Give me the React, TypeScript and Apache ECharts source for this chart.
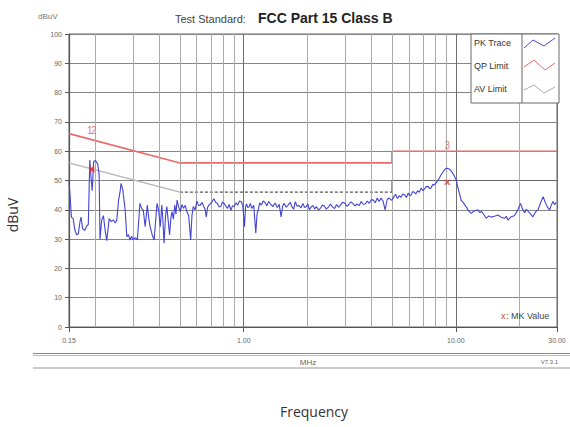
import React, { useEffect, useRef } from "react";
import * as echarts from "echarts";

// ---- data: [frequency MHz, level dBuV] ----
const pkTrace: [number, number][] = [
  [0.150, 50.0], [0.152, 44.0], [0.154, 37.5], [0.157, 37.0], [0.160, 33.0],
  [0.163, 31.5], [0.166, 31.8], [0.169, 36.0], [0.171, 37.5], [0.174, 33.5],
  [0.178, 33.0], [0.182, 34.5], [0.185, 35.0], [0.188, 57.0], [0.191, 50.0],
  [0.193, 46.5], [0.196, 56.5], [0.200, 56.8], [0.205, 55.5], [0.208, 52.0],
  [0.210, 30.0], [0.214, 36.5], [0.218, 38.0], [0.222, 33.0], [0.226, 29.5],
  [0.232, 37.0], [0.237, 36.0], [0.243, 36.5], [0.248, 35.5], [0.252, 36.5],
  [0.257, 43.3], [0.261, 46.0], [0.264, 49.0], [0.269, 46.8], [0.276, 39.9],
  [0.281, 30.8], [0.286, 31.5], [0.291, 29.7], [0.296, 31.0], [0.301, 29.9],
  [0.308, 30.5], [0.315, 29.7], [0.324, 42.2], [0.330, 40.5], [0.336, 39.9],
  [0.343, 34.2], [0.351, 41.6], [0.356, 37.5], [0.362, 34.2], [0.370, 31.5],
  [0.378, 29.7], [0.384, 36.0], [0.390, 42.2], [0.397, 39.9], [0.404, 34.2],
  [0.411, 41.6], [0.416, 36.0], [0.421, 28.6], [0.428, 38.0], [0.434, 41.1],
  [0.440, 36.5], [0.447, 31.4], [0.453, 37.0], [0.459, 39.4], [0.466, 36.8],
  [0.473, 41.6], [0.479, 38.5], [0.485, 43.3], [0.493, 41.0], [0.502, 39.4],
  [0.511, 41.8], [0.520, 40.5], [0.530, 41.5], [0.539, 39.4], [0.550, 38.0],
  [0.562, 29.7], [0.570, 38.0], [0.578, 41.1], [0.590, 40.0], [0.601, 43.0],
  [0.612, 41.5], [0.624, 41.6], [0.636, 42.5], [0.648, 41.1], [0.657, 40.2],
  [0.666, 37.6], [0.675, 40.8], [0.685, 41.6], [0.704, 42.4], [0.723, 43.8],
  [0.737, 42.6], [0.751, 42.2], [0.765, 41.0], [0.779, 41.1], [0.793, 42.6],
  [0.808, 42.2], [0.823, 41.2], [0.839, 40.5], [0.854, 41.8], [0.870, 39.9],
  [0.886, 41.4], [0.903, 41.1], [0.920, 42.4], [0.937, 41.6], [0.955, 43.0],
  [0.972, 42.8], [0.990, 41.5], [1.008, 34.2], [1.020, 41.0], [1.030, 42.0],
  [1.045, 40.8], [1.060, 41.0], [1.075, 42.2], [1.090, 40.5], [1.115, 41.5],
  [1.140, 32.0], [1.155, 38.5], [1.170, 40.0], [1.190, 42.4], [1.210, 41.6],
  [1.235, 43.0], [1.260, 42.5], [1.285, 41.4], [1.310, 42.8], [1.340, 41.9],
  [1.370, 41.1], [1.405, 42.3], [1.440, 40.8], [1.470, 41.9], [1.500, 37.6],
  [1.525, 41.2], [1.550, 42.2], [1.585, 40.9], [1.620, 41.6], [1.655, 42.6],
  [1.690, 41.0], [1.720, 40.2], [1.750, 42.8], [1.785, 41.2], [1.820, 41.5],
  [1.860, 40.6], [1.900, 42.2], [1.935, 40.8], [1.970, 41.1], [2.005, 42.0],
  [2.040, 40.0], [2.080, 41.0], [2.120, 41.5], [2.160, 40.3], [2.200, 41.1],
  [2.250, 40.0], [2.300, 40.5], [2.350, 41.6], [2.400, 41.3], [2.450, 40.2],
  [2.500, 40.8], [2.560, 41.9], [2.620, 41.1], [2.680, 40.4], [2.740, 41.8],
  [2.800, 40.9], [2.860, 41.6], [2.930, 42.6], [3.000, 42.2], [3.065, 41.2],
  [3.130, 41.8], [3.200, 42.7], [3.270, 42.2], [3.345, 41.3], [3.420, 42.0],
  [3.500, 41.4], [3.580, 42.8], [3.660, 41.9], [3.740, 42.0], [3.820, 43.0],
  [3.910, 42.2], [4.000, 43.5], [4.080, 43.3], [4.170, 42.4], [4.260, 44.0],
  [4.350, 42.8], [4.440, 44.0], [4.540, 43.0], [4.640, 40.0], [4.750, 43.6],
  [4.850, 44.0], [4.980, 43.2], [5.110, 44.5], [5.200, 45.3], [5.300, 43.8],
  [5.410, 44.8], [5.520, 44.3], [5.630, 45.4], [5.750, 45.0], [5.850, 44.2],
  [5.960, 45.7], [6.050, 44.9], [6.150, 45.0], [6.250, 46.2], [6.360, 46.0],
  [6.480, 45.4], [6.600, 46.5], [6.730, 46.0], [6.860, 47.4], [6.980, 46.6],
  [7.100, 47.0], [7.250, 47.9], [7.410, 48.0], [7.530, 47.2], [7.650, 47.5],
  [7.780, 48.6], [7.900, 48.5], [8.080, 49.2], [8.260, 50.2], [8.500, 51.8],
  [8.720, 53.0], [8.900, 53.9], [9.110, 54.2], [9.350, 53.8], [9.580, 53.0],
  [9.820, 51.6], [10.04, 50.2], [10.20, 48.0], [10.40, 45.6], [10.60, 43.3],
  [10.90, 42.2], [11.20, 41.0], [11.50, 39.6], [11.80, 38.8], [12.20, 39.6],
  [12.70, 40.0], [13.00, 39.0], [13.20, 39.5], [13.55, 38.4], [13.90, 37.1],
  [14.30, 37.9], [14.70, 37.5], [15.20, 37.8], [15.80, 38.2], [16.40, 37.4],
  [17.00, 37.1], [17.30, 37.8], [17.60, 36.5], [18.20, 37.6], [18.90, 38.0],
  [19.60, 40.0], [20.20, 42.2], [20.60, 40.4], [21.10, 39.0], [21.50, 40.2],
  [21.90, 39.5], [22.50, 38.6], [23.10, 37.6], [23.70, 39.2], [24.40, 40.0],
  [25.10, 42.4], [25.80, 44.5], [26.40, 42.6], [27.00, 41.0], [27.70, 40.0],
  [28.20, 41.6], [28.70, 42.8], [29.20, 41.8], [29.80, 42.5], [30.00, 42.5],
];

const qpFreq = [0.15, 0.5, 5, 5, 30];
const qpLevel = [66, 56, 56, 60, 60];

const avFreqA = [0.15, 0.5];
const avLevelA = [56, 46];
const avFreqB = [0.5, 5];
const avLevelB = [46, 46];
const avFreqC = [5, 5, 30];
const avLevelC = [46, 50, 50];

const markerNames = ["1", "2", "3"];
const markerFreq = [0.192, 0.192, 9.11];
const markerLevel = [54, 53.6, 49.4];
const markerLabelLevel = [67, 67, 62];

const minorGridFreq = [0.2, 0.3, 0.4, 0.5, 0.6, 0.7, 0.8, 0.9, 2, 3, 4, 5, 6, 7, 8, 9, 20];

const xMin = 0.15;
const xMax = 30;
const yMin = 0;
const yMax = 100;
const yStep = 10;

const zip = (a: number[], b: number[]) => a.map((v, i) => [v, b[i]]);

const FONT = "'Liberation Sans', Arial, sans-serif";

export default function App() {
  const ref = useRef<HTMLDivElement>(null);

  useEffect(() => {
    document.body.style.margin = "0";
    const chart = echarts.init(ref.current!, null, { renderer: "svg" });

    const markerLabelData = markerNames.map((n, i) => ({
      value: [markerFreq[i], markerLabelLevel[i]],
      name: n,
      label: { offset: i === 0 ? [-2, 0] : i === 1 ? [2, 0] : [0, 0] },
    }));

    const option: any = {
      animation: false,
      backgroundColor: "#ffffff",
      grid: {
        left: 69,
        top: 34,
        right: 13,
        bottom: 100,
        show: true,
        borderColor: "#666",
        borderWidth: 1,
      },
      xAxis: {
        type: "log",
        logBase: 10,
        min: xMin,
        max: xMax,
        axisLine: { show: true, lineStyle: { color: "#555", width: 1 } },
        axisTick: { show: true, length: 5, lineStyle: { color: "#555" } },
        axisLabel: {
          show: true,
          fontSize: 7,
          color: "#666",
          fontFamily: FONT,
          margin: 10,
          showMinLabel: true,
          showMaxLabel: true,
          formatter: (v: number) => v.toFixed(2),
        },
        splitLine: { show: true, lineStyle: { color: "#6f6f6f", width: 1 } },
        minorTick: { show: false },
        minorSplitLine: { show: false },
      },
      yAxis: {
        type: "value",
        min: yMin,
        max: yMax,
        interval: yStep,
        axisLine: { show: true, lineStyle: { color: "#555", width: 1.2 } },
        axisTick: { show: true, length: 4, lineStyle: { color: "#555" } },
        axisLabel: {
          fontSize: 7,
          color: "#666",
          fontFamily: FONT,
          margin: 7,
        },
        splitLine: { show: true, lineStyle: { color: "#858585", width: 1 } },
      },
      series: [
        {
          type: "line",
          name: "grid",
          data: [[xMin, yMin]],
          symbol: "none",
          silent: true,
          z: 1,
          lineStyle: { opacity: 0 },
          markLine: {
            silent: true,
            symbol: "none",
            label: { show: false },
            animation: false,
            lineStyle: { color: "#ababab", width: 1, type: "solid" },
            data: minorGridFreq.map((f) => ({ xAxis: f })),
          },
        },
        {
          type: "line",
          name: "AV Limit",
          data: zip(avFreqA, avLevelA),
          symbol: "none",
          z: 3,
          lineStyle: { color: "#b4b4b4", width: 1.3 },
        },
        {
          type: "line",
          name: "AV Limit dashed",
          data: zip(avFreqB, avLevelB),
          symbol: "none",
          z: 3,
          lineStyle: { color: "#555", width: 1.2, type: [3, 2] },
        },
        {
          type: "line",
          name: "AV Limit high",
          data: zip(avFreqC, avLevelC),
          symbol: "none",
          z: 3,
          lineStyle: { color: "#666", width: 1.2 },
        },
        {
          type: "line",
          name: "QP Limit",
          data: zip(qpFreq, qpLevel),
          symbol: "none",
          z: 4,
          lineStyle: { color: "#e86a6a", width: 1.6 },
        },
        {
          type: "line",
          name: "PK Trace",
          data: pkTrace,
          symbol: "none",
          z: 5,
          lineStyle: { color: "#4343d6", width: 1.1 },
        },
        {
          type: "scatter",
          name: "markers",
          data: zip(markerFreq, markerLevel),
          symbol: "path://M0,0L10,10M10,0L0,10",
          symbolSize: 5,
          z: 6,
          itemStyle: { color: "none", borderColor: "#e03a3a", borderWidth: 1.6 },
        },
        {
          type: "scatter",
          name: "marker labels",
          data: markerLabelData,
          symbol: "circle",
          symbolSize: 2,
          z: 6,
          itemStyle: { color: "rgba(255,255,255,0)" },
          label: {
            show: true,
            position: "inside",
            formatter: (p: any) => p.name,
            color: "#e05a5a",
            fontSize: 10,
            fontFamily: FONT,
          },
        },
      ],
      graphic: [
        {
          type: "text",
          left: 38,
          top: 12,
          style: { text: "dBuV", fontSize: 8, fill: "#777", fontFamily: FONT },
        },
        {
          type: "text",
          x: 175,
          y: 13,
          style: { text: "Test Standard:", fontSize: 11, fill: "#444", fontFamily: FONT },
        },
        {
          type: "text",
          x: 258,
          y: 11,
          style: { text: "FCC Part 15 Class B", fontSize: 14, fontWeight: "bold", fill: "#222", fontFamily: FONT },
        },
        {
          type: "rect",
          z: 20,
          shape: { x: 471, y: 34, width: 88, height: 69 },
          style: { fill: "#fff", stroke: "#666", lineWidth: 1 },
        },
        {
          type: "line",
          z: 21,
          shape: { x1: 522, y1: 34, x2: 522, y2: 103 },
          style: { stroke: "#666", lineWidth: 1 },
        },
        {
          type: "text",
          z: 21,
          x: 474,
          y: 38,
          style: { text: "PK Trace", fontSize: 9, fill: "#333", fontFamily: FONT },
        },
        {
          type: "text",
          z: 21,
          x: 474,
          y: 61,
          style: { text: "QP Limit", fontSize: 9, fill: "#333", fontFamily: FONT },
        },
        {
          type: "text",
          z: 21,
          x: 474,
          y: 84,
          style: { text: "AV Limit", fontSize: 9, fill: "#333", fontFamily: FONT },
        },
        {
          type: "polyline",
          z: 21,
          shape: { points: [[524, 48], [533, 40], [544, 46], [555, 38]] },
          style: { stroke: "#4a4ad8", lineWidth: 1, fill: "none" },
        },
        {
          type: "polyline",
          z: 21,
          shape: { points: [[524, 67], [534, 60], [545, 70], [555, 63]] },
          style: { stroke: "#e86a6a", lineWidth: 1, fill: "none" },
        },
        {
          type: "polyline",
          z: 21,
          shape: { points: [[524, 90], [534, 85], [544, 93], [555, 87]] },
          style: { stroke: "#aaa", lineWidth: 1, fill: "none" },
        },
        {
          type: "text",
          z: 21,
          x: 501,
          y: 311,
          style: { text: "x", fontSize: 9, fill: "#e03a3a", fontFamily: FONT },
        },
        {
          type: "text",
          z: 21,
          x: 506,
          y: 311,
          style: { text: ": MK Value", fontSize: 9, fill: "#444", fontFamily: FONT },
        },
        {
          type: "line",
          shape: { x1: 33, y1: 353.5, x2: 570, y2: 353.5 },
          style: { stroke: "#888", lineWidth: 1 },
        },
        {
          type: "line",
          shape: { x1: 33, y1: 355.5, x2: 570, y2: 355.5 },
          style: { stroke: "#bbb", lineWidth: 1 },
        },
        {
          type: "line",
          shape: { x1: 33, y1: 368, x2: 570, y2: 368 },
          style: { stroke: "#999", lineWidth: 1.2 },
        },
        {
          type: "text",
          x: 308,
          y: 362,
          style: { text: "MHz", fontSize: 8, fill: "#666", fontFamily: FONT, align: "center", verticalAlign: "middle" },
        },
        {
          type: "text",
          x: 558,
          y: 362,
          style: { text: "V7.3.1", fontSize: 6, fill: "#666", fontFamily: FONT, align: "right", verticalAlign: "middle" },
        },
        {
          type: "text",
          x: 12,
          y: 215,
          rotation: Math.PI / 2,
          style: { text: "dBuV", fontSize: 14, fill: "#333", fontFamily: "'Open Sans', 'Noto Sans', sans-serif", align: "center", verticalAlign: "middle" },
        },
        {
          type: "text",
          x: 314,
          y: 411,
          style: { text: "Frequency", fontSize: 14, fill: "#333", fontFamily: "'Open Sans', 'Noto Sans', sans-serif", align: "center", verticalAlign: "middle" },
        },
      ],
    };

    chart.setOption(option);
    return () => chart.dispose();
  }, []);

  return <div ref={ref} style={{ width: 570, height: 427 }} />;
}
